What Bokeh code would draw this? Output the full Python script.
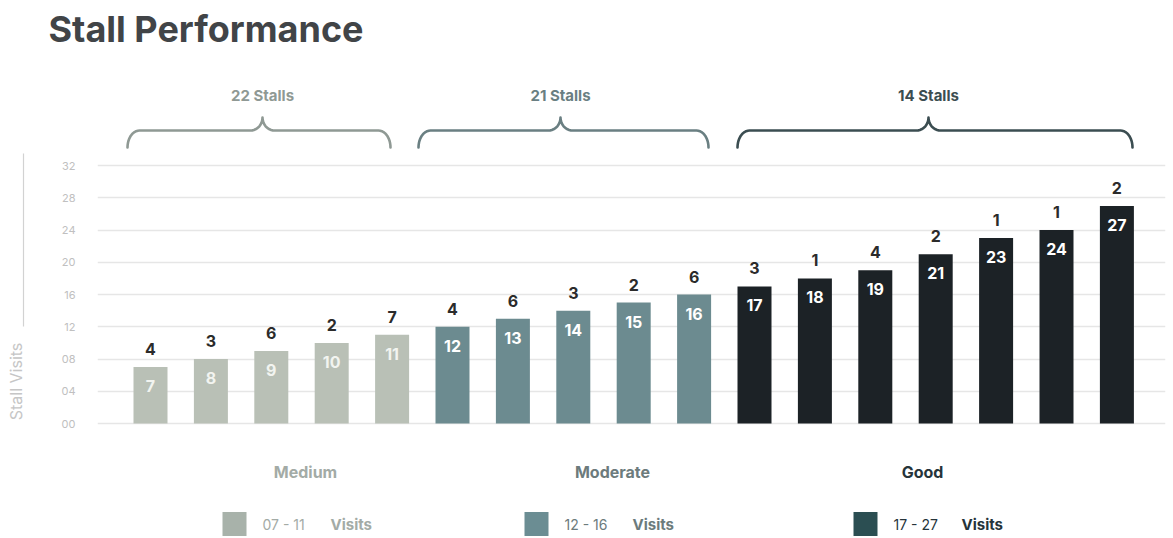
import numpy as np
from bokeh.plotting import figure
from bokeh.layouts import column, row
from bokeh.models import Range1d, FixedTicker, ColumnDataSource
from bokeh.core.properties import value
from bokeh.embed import file_html
from bokeh.resources import INLINE

# ---------------- data ----------------
visits = [7, 8, 9, 10, 11, 12, 13, 14, 15, 16, 17, 18, 19, 21, 23, 24, 27]
stalls = [4, 3, 6, 2, 7, 4, 6, 3, 2, 6, 3, 1, 4, 2, 1, 1, 2]
bar_group = [0] * 5 + [1] * 5 + [2] * 7
groups = ["Medium", "Moderate", "Good"]
group_ranges = ["07 - 11", "12 - 16", "17 - 27"]
y_ticks = [0, 4, 8, 12, 16, 20, 24, 28, 32]
y_tick_labels = ["00", "04", "08", "12", "16", "20", "24", "28", "32"]

# ---------------- styles ----------------
FONT = "Inter"
bar_colors = ["#b9c0b6", "#6c8b90", "#1c2226"]
legend_colors = ["#a8b2aa", "#6b8d93", "#2b4e52"]
brace_colors = ["#8f9994", "#6a7f82", "#3b4d51"]
label_colors = ["#a3aba6", "#6c7b7c", "#26343a"]

W, H = 1173, 538
TOP_H = 58          # height of the title strip
LEFT_W = 40         # width of the axis-title strip
PX0, DX = 150.0, 60.4     # canvas pixel of first bar centre, pixel per category
Y0, DY = 423.0, 8.06      # canvas pixel of zero line, pixel per unit
F_L, F_R, F_T, F_B = 97, 1165, TOP_H, H


def dx(px):
    return (px - PX0) / DX


def dy(py):
    return (Y0 - py) / DY


def bare(fig):
    fig.outline_line_color = None
    fig.background_fill_color = "white"
    fig.border_fill_color = "white"
    return fig


# ---------------- title strip ----------------
top = bare(figure(width=W, height=TOP_H, output_backend="svg", toolbar_location=None,
                  x_range=Range1d(0, W), y_range=Range1d(TOP_H, 0),
                  x_axis_location=None, y_axis_location=None,
                  min_border=0))
top.grid.visible = False
top.text(x=[48], y=[28], text=["Stall Performance"], text_baseline="middle",
         text_align="left", text_color="#414447", text_font=value(FONT),
         text_font_size="36px", text_font_style="bold")

# ---------------- axis-title strip ----------------
left = bare(figure(width=LEFT_W, height=H - TOP_H, output_backend="svg",
                   toolbar_location=None, x_range=Range1d(0, LEFT_W),
                   y_range=Range1d(H, TOP_H), x_axis_location=None,
                   y_axis_location=None, min_border=0))
left.grid.visible = False
left.text(x=[15], y=[381], text=["Stall Visits"], angle=np.pi / 2,
          text_align="center", text_baseline="middle", text_color="#c6c6c6",
          text_font=value(FONT), text_font_size="16px")
left.segment(x0=[23], y0=[153], x1=[23], y1=[326], line_color="#d2d2d2",
             line_width=1.2)

# ---------------- main chart ----------------
p = bare(figure(width=W - LEFT_W, height=H - TOP_H, output_backend="svg",
                toolbar_location=None,
                x_range=Range1d(dx(F_L), dx(F_R)), y_range=Range1d(dy(F_B), dy(F_T)),
                x_axis_location=None, min_border_left=F_L - LEFT_W,
                min_border_right=W - F_R, min_border_top=0, min_border_bottom=0))
p.xgrid.grid_line_color = None
p.ygrid.grid_line_color = "#e6e6e6"
p.ygrid.grid_line_width = 1.6
p.yaxis.ticker = FixedTicker(ticks=y_ticks)
p.yaxis.major_label_overrides = {t: l for t, l in zip(y_ticks, y_tick_labels)}
p.yaxis.axis_line_color = None
p.yaxis.major_tick_line_color = None
p.yaxis.minor_tick_line_color = None
p.yaxis.major_label_text_color = "#c0c0c0"
p.yaxis.major_label_text_font = FONT
p.yaxis.major_label_text_font_size = "11px"
p.yaxis.major_label_standoff = 16

xs = list(range(len(visits)))
src = ColumnDataSource(dict(
    x=xs, top=visits, cnt=[str(s) for s in stalls], val=[str(v) for v in visits],
    color=[bar_colors[g] for g in bar_group],
    tcolor=["#f2f4f0" if g == 0 else "white" for g in bar_group],
))
p.vbar(x="x", top="top", bottom=0, width=34 / DX, fill_color="color",
       line_color=None, source=src)
p.text(x="x", y="top", text="cnt", source=src, y_offset=-12,
       text_align="center", text_baseline="bottom", text_color="#2b2b2b",
       text_font=value(FONT), text_font_size="16px", text_font_style="bold")
p.text(x="x", y="top", text="val", source=src, y_offset=13,
       text_align="center", text_baseline="top", text_color="tcolor",
       text_font=value(FONT), text_font_size="16px", text_font_style="bold")

# ---------------- braces & group totals ----------------
brace_px = [(127, 390, 262), (418, 708, 560), (737, 1132, 928)]
YH, YE, YC = 130.0, 147.0, 117.0
for gi, (x0, x1, xc) in enumerate(brace_px):
    t = np.linspace(0, np.pi / 2, 12)
    pts = []
    for a in np.pi - t:
        pts.append((x0 + 12 + 12 * np.cos(a), YE - (YE - YH) * np.sin(a)))
    for a in t[::-1]:
        pts.append((xc - 12 + 12 * np.cos(a), YC + (YH - YC) * np.sin(a)))
    for a in t:
        pts.append((xc + 12 - 12 * np.cos(a), YC + (YH - YC) * np.sin(a)))
    for a in t[::-1]:
        pts.append((x1 - 12 + 12 * np.cos(a), YE - (YE - YH) * np.sin(a)))
    p.line([dx(a) for a, b in pts], [dy(b) for a, b in pts],
           line_color=brace_colors[gi], line_width=2.6, line_cap="round",
           line_join="round")

totals = [sum(s for s, g in zip(stalls, bar_group) if g == gi) for gi in range(3)]
p.text(x=[dx(b[2]) for b in brace_px], y=[dy(95)] * 3,
       text=[f"{t} Stalls" for t in totals], text_align="center",
       text_baseline="middle", text_color=brace_colors,
       text_font=value(FONT), text_font_size="15px", text_font_style="bold")

# ---------------- group names ----------------
p.text(x=[dx(305), dx(612), dx(922)], y=[dy(471)] * 3, text=groups,
       text_align="center", text_baseline="middle", text_color=label_colors,
       text_font=value(FONT), text_font_size="16px", text_font_style="bold")

# ---------------- legend ----------------
sq_px = [234, 536, 865]
p.scatter(x=[dx(v) for v in sq_px], y=[dy(523.5)] * 3, marker="square",
          size=24, fill_color=legend_colors, line_color=None)
p.text(x=[dx(v + 28) for v in sq_px], y=[dy(524)] * 3, text=group_ranges,
       text_align="left", text_baseline="middle", text_color=label_colors,
       text_font=value(FONT), text_font_size="14px")
p.text(x=[dx(v + 96) for v in sq_px], y=[dy(524)] * 3, text=["Visits"] * 3,
       text_align="left", text_baseline="middle", text_color=label_colors,
       text_font=value(FONT), text_font_size="15px", text_font_style="bold")

layout = column(top, row(left, p, spacing=0), spacing=0)
open("out.html", "w").write(file_html(layout, INLINE))
